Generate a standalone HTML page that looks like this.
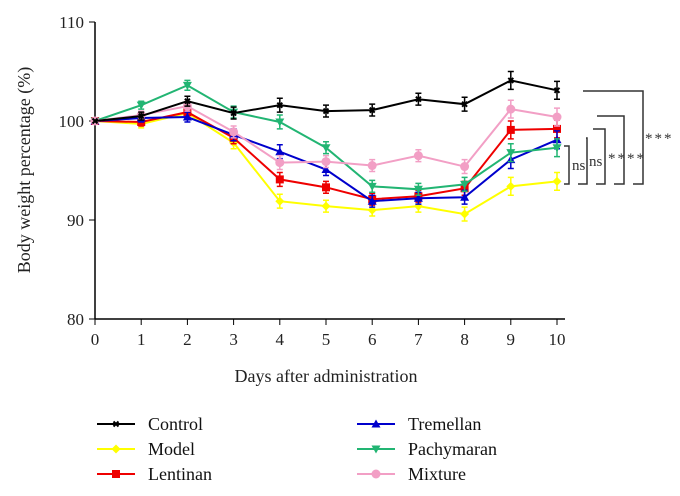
<!DOCTYPE html>
<html><head><meta charset="utf-8"><style>
body{margin:0;background:#fff;}
svg{display:block;font-family:"Liberation Serif",serif;}
</style></head><body>
<svg id="c" width="680" height="496" xmlns="http://www.w3.org/2000/svg"></svg>
<script>
const days=[0,1,2,3,4,5,6,7,8,9,10];
const yTicks=[80,90,100,110];
const seriesNames=["Control","Model","Lentinan","Tremellan","Pachymaran","Mixture"];
const control=[100,100.5,102,100.8,101.6,101,101.1,102.2,101.7,104.1,103.1];
const model=[100,99.7,100.8,97.8,91.9,91.4,91.0,91.4,90.6,93.4,93.9];
const lentinan=[100,99.9,100.9,98.3,94.1,93.3,92.1,92.4,93.2,99.1,99.2];
const tremellan=[100,100.3,100.4,98.6,96.9,95.1,91.9,92.2,92.3,96.1,98.1];
const pachymaran=[100,101.6,103.6,100.9,99.9,97.3,93.4,93.1,93.6,96.8,97.3];
const mixture=[100,100.6,101.5,98.9,95.8,95.9,95.5,96.5,95.4,101.2,100.4];
const errs=[0.5,0.4,0.5,0.6,0.7,0.6,0.6,0.6,0.7,0.9,0.9];
const sigLabels=["***","**","**","ns","ns"];
const colors=["#000","#ffff00","#ee0000","#0000cc","#22b573","#f29fc5"];
const markers=["x","diamond","square","tri","tridown","circle"];
const data=[control,model,lentinan,tremellan,pachymaran,mixture];
const svg=document.getElementById('c');
const NS="http://www.w3.org/2000/svg";
const X=d=>95+d*46.2, Y=v=>121-(v-100)*9.9;
function el(t,a,p){const e=document.createElementNS(NS,t);for(const k in a)e.setAttribute(k,a[k]);(p||svg).appendChild(e);return e;}
let ax=el('line',{x1:95,y1:22,x2:95,y2:319,stroke:'#000','stroke-width':1.5});


ax=el('line',{x1:95,y1:319,x2:565,y2:319,stroke:'#000','stroke-width':1.5});


yTicks.forEach(v=>{el('line',{x1:89,x2:95,y1:Y(v),y2:Y(v),stroke:'#000'});
 const t=el('text',{x:84,y:Y(v)+6,'text-anchor':'end','font-size':17,fill:'#222'});t.textContent=v;
 
 });
days.forEach(d=>{el('line',{x1:X(d),x2:X(d),y1:319,y2:325,stroke:'#000'});
 const t=el('text',{x:X(d),y:345,'text-anchor':'middle','font-size':17,fill:'#222'});t.textContent=d;
 
 });
let t=el('text',{x:326,y:382,'text-anchor':'middle','font-size':18,fill:'#222'});t.textContent='Days after administration';


t=el('text',{x:0,y:0,'text-anchor':'middle','font-size':18,fill:'#222',transform:'translate(30,170) rotate(-90)'});t.textContent='Body weight percentage (%)';


function marker(m,x,y,c,g){
 if(m==='x'){el('path',{d:`M${x-2.5} ${y-2.5}L${x+2.5} ${y+2.5}M${x-2.5} ${y+2.5}L${x+2.5} ${y-2.5}`,stroke:c,'stroke-width':2},g);}
 else if(m==='diamond')el('path',{d:`M${x} ${y-4.5}L${x+4.5} ${y}L${x} ${y+4.5}L${x-4.5} ${y}Z`,fill:c},g);
 else if(m==='square')el('rect',{x:x-4,y:y-4,width:8,height:8,fill:c},g);
 else if(m==='tri')el('path',{d:`M${x} ${y-4.5}L${x+4.5} ${y+3.5}L${x-4.5} ${y+3.5}Z`,fill:c},g);
 else if(m==='tridown')el('path',{d:`M${x} ${y+4.5}L${x+4.5} ${y-3.5}L${x-4.5} ${y-3.5}Z`,fill:c},g);
 else el('circle',{cx:x,cy:y,r:4.5,fill:c},g);
}
const order=[1,2,3,4,5,0];
order.forEach(i=>{
 const g=el('g',{});
 
 
 const s=data[i];
 el('polyline',{points:s.map((v,j)=>X(days[j])+','+Y(v)).join(' '),fill:'none',stroke:colors[i],'stroke-width':2},g);
 s.forEach((v,j)=>{if(j>0){const x=X(days[j]),e=errs[j]*9.9;
  el('path',{d:`M${x} ${Y(v)-e}V${Y(v)+e}M${x-3} ${Y(v)-e}H${x+3}M${x-3} ${Y(v)+e}H${x+3}`,stroke:colors[i],'stroke-width':1.5},g);}
  marker(markers[i],X(days[j]),Y(v),colors[i],g);});
});
// significance brackets: [x-start, vertical-x, top-y, bottom-end-x, label-x, label-y]
const br=[[583,643,91,633,645,143],[597,624,116,614,627,163],[593,605,129,596,608,163],[586,587,138,578,589,166],[564,569,146,564,572,170]];
br.forEach((b,k)=>{const g=el('g',{});
 
 
 el('path',{d:`M${b[0]} ${b[2]}H${b[1]}V184H${b[3]}`,fill:'none',stroke:'#333','stroke-width':1.5},g);
 const tt=el('text',{x:b[4],y:b[5],'font-size':15,fill:'#333','letter-spacing':k<3?2:0},g);tt.textContent=sigLabels[k];});
const lp=[[97,424],[357,424],[97,449],[357,449],[97,474],[357,474]];
const li=[0,3,1,4,2,5];
li.forEach((i,k)=>{const g=el('g',{});
 
 
 const [x,y]=lp[k];
 el('line',{x1:x,x2:x+38,y1:y,y2:y,stroke:colors[i],'stroke-width':2},g);
 marker(markers[i],x+19,y,colors[i],g);
 const tt=el('text',{x:x+51,y:y+6,'font-size':18,fill:'#111'},g);tt.textContent=seriesNames[i];});
</script>
</body></html>
